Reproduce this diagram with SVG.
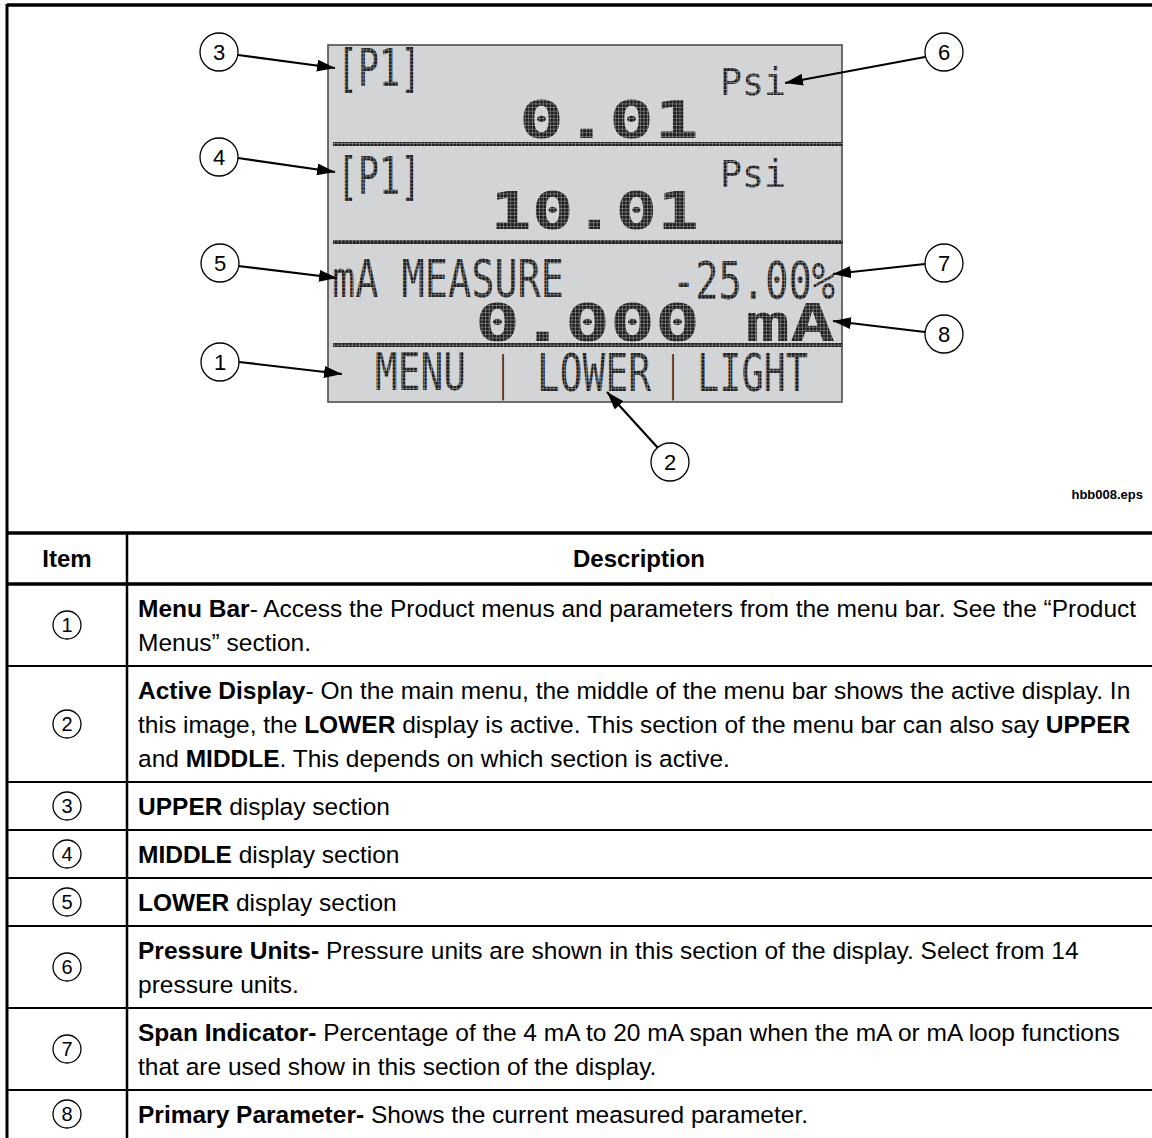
<svg xmlns="http://www.w3.org/2000/svg" width="1152" height="1138" viewBox="0 0 1152 1138">
<style>
.lcdtxt{font-family:"DejaVu Sans Mono","Liberation Mono",monospace;fill:url(#dots)}
.bar{font-family:"DejaVu Sans Mono","Liberation Mono",monospace;font-size:46px;font-weight:bold;fill:#222}
.big{font-weight:bold;font-size:51px}
.sm{font-size:51px}
.num{font-family:"Liberation Sans",Arial,sans-serif;font-size:22px;text-anchor:middle;fill:#000}
.tnum{font-family:"Liberation Sans",Arial,sans-serif;font-size:20px;text-anchor:middle;fill:#000}
.co{fill:#fff;stroke:#000;stroke-width:1.3}
.arr{stroke:#000;stroke-width:2.2;fill:none;marker-end:url(#ah)}
.body{font-family:"Liberation Sans",Arial,sans-serif;font-size:24.5px;fill:#000}
.hdr{font-family:"Liberation Sans",Arial,sans-serif;font-size:24px;font-weight:bold;fill:#000;text-anchor:middle}
.b{font-weight:bold}
.thick{stroke:#000;stroke-width:3.5}
.thin{stroke:#000;stroke-width:2}
</style>
<defs>
<pattern id="dots" width="3.6" height="3.6" patternUnits="userSpaceOnUse">
<rect width="3.6" height="3.6" fill="#1e1e1e"/>
<path d="M3.6 0V3.6H0" stroke="#c8c9cb" stroke-width="0.8" fill="none"/>
</pattern>
<marker id="ah" markerUnits="userSpaceOnUse" markerWidth="20" markerHeight="12" refX="18" refY="6" orient="auto">
<path d="M0,0 L18,6 L0,12 z" fill="#000"/>
</marker>
</defs>
<rect width="1152" height="1138" fill="#fff"/>

<g id="frame">
<line x1="7" y1="5" x2="1152" y2="5" class="thick"/>
<line x1="7" y1="4" x2="7" y2="1138" stroke="#000" stroke-width="3"/>
</g>

<g id="lcd">
<rect x="328" y="45" width="514" height="357" fill="#d3d4d6" stroke="#4d4d4d" stroke-width="1.6"/>
<rect x="333" y="142" width="510" height="4" fill="url(#dots)"/>
<rect x="333" y="240" width="510" height="4" fill="url(#dots)"/>
<rect x="333" y="343" width="510" height="4" fill="url(#dots)"/>
<text class="lcdtxt sm" x="337" y="86" textLength="84" lengthAdjust="spacingAndGlyphs">[P1]</text>
<text class="lcdtxt" style="font-size:37px" x="720" y="95" textLength="66" lengthAdjust="spacingAndGlyphs">Psi</text>
<text class="lcdtxt big" x="519" y="138" textLength="180" lengthAdjust="spacingAndGlyphs">0.01</text>
<text class="lcdtxt sm" x="337" y="194" textLength="84" lengthAdjust="spacingAndGlyphs">[P1]</text>
<text class="lcdtxt" style="font-size:37px" x="720" y="187" textLength="66" lengthAdjust="spacingAndGlyphs">Psi</text>
<text class="lcdtxt big" x="490" y="229" textLength="209" lengthAdjust="spacingAndGlyphs">10.01</text>
<text class="lcdtxt sm" x="332" y="297" textLength="232" lengthAdjust="spacingAndGlyphs">mA MEASURE</text>
<text class="lcdtxt sm" x="672" y="299" textLength="163" lengthAdjust="spacingAndGlyphs">-25.00%</text>
<text class="lcdtxt big" x="475" y="341" textLength="360" lengthAdjust="spacingAndGlyphs">0.000 mA</text>
<text class="lcdtxt sm" x="375" y="390" textLength="91" lengthAdjust="spacingAndGlyphs">MENU</text>
<text class="bar" x="499" y="389" textLength="8" lengthAdjust="spacingAndGlyphs">|</text>
<text class="lcdtxt sm" x="537" y="391" textLength="114" lengthAdjust="spacingAndGlyphs">LOWER</text>
<text class="bar" x="669" y="389" textLength="8" lengthAdjust="spacingAndGlyphs">|</text>
<text class="lcdtxt sm" x="697" y="391" textLength="111" lengthAdjust="spacingAndGlyphs">LIGHT</text>
</g>

<g id="connectors">
<line class="arr" x1="238" y1="55" x2="335" y2="68"/>
<line class="arr" x1="238" y1="158" x2="335" y2="172"/>
<line class="arr" x1="238" y1="266" x2="337" y2="278"/>
<line class="arr" x1="239" y1="362" x2="342" y2="374"/>
<line class="arr" x1="925" y1="57" x2="785" y2="83"/>
<line class="arr" x1="925" y1="264" x2="833" y2="274"/>
<line class="arr" x1="925" y1="332" x2="833" y2="321"/>
<line class="arr" x1="658" y1="448" x2="607" y2="392"/>
</g>

<g id="callout-3"><circle class="co" cx="219" cy="52" r="19"/><text class="num" x="219" y="60">3</text></g>
<g id="callout-4"><circle class="co" cx="219" cy="157" r="19"/><text class="num" x="219" y="165">4</text></g>
<g id="callout-5"><circle class="co" cx="220" cy="263" r="19"/><text class="num" x="220" y="271">5</text></g>
<g id="callout-1"><circle class="co" cx="220" cy="362" r="19"/><text class="num" x="220" y="370">1</text></g>
<g id="callout-6"><circle class="co" cx="944" cy="52" r="19"/><text class="num" x="944" y="60">6</text></g>
<g id="callout-7"><circle class="co" cx="944" cy="263" r="19"/><text class="num" x="944" y="271">7</text></g>
<g id="callout-8"><circle class="co" cx="944" cy="334" r="19"/><text class="num" x="944" y="342">8</text></g>
<g id="callout-2"><circle class="co" cx="670" cy="462" r="19"/><text class="num" x="670" y="470">2</text></g>

<text x="1143" y="499" font-family="'Liberation Sans',Arial,sans-serif" font-size="13" font-weight="bold" text-anchor="end">hbb008.eps</text>

<g id="table">
<line x1="7" y1="533" x2="1152" y2="533" class="thick"/>
<line x1="7" y1="584" x2="1152" y2="584" class="thick"/>
<line x1="7" y1="666" x2="1152" y2="666" class="thin"/>
<line x1="7" y1="782" x2="1152" y2="782" class="thin"/>
<line x1="7" y1="830" x2="1152" y2="830" class="thin"/>
<line x1="7" y1="878" x2="1152" y2="878" class="thin"/>
<line x1="7" y1="926" x2="1152" y2="926" class="thin"/>
<line x1="7" y1="1008" x2="1152" y2="1008" class="thin"/>
<line x1="7" y1="1090" x2="1152" y2="1090" class="thin"/>
<line x1="127" y1="533" x2="127" y2="1138" stroke="#000" stroke-width="2.5"/>
<text class="hdr" x="67" y="567">Item</text>
<text class="hdr" x="639" y="567">Description</text>

<g id="row-1"><circle class="co" cx="67" cy="625" r="14"/><text class="tnum" x="67" y="632">1</text>
<text class="body" x="138" y="617"><tspan class="b">Menu Bar</tspan>- Access the Product menus and parameters from the menu bar. See the “Product</text>
<text class="body" x="138" y="651">Menus” section.</text></g>

<g id="row-2"><circle class="co" cx="67" cy="724" r="14"/><text class="tnum" x="67" y="731">2</text>
<text class="body" x="138" y="699"><tspan class="b">Active Display</tspan>- On the main menu, the middle of the menu bar shows the active display. In</text>
<text class="body" x="138" y="733">this image, the <tspan class="b">LOWER</tspan> display is active. This section of the menu bar can also say <tspan class="b">UPPER</tspan></text>
<text class="body" x="138" y="767">and <tspan class="b">MIDDLE</tspan>. This depends on which section is active.</text></g>

<g id="row-3"><circle class="co" cx="67" cy="806" r="14"/><text class="tnum" x="67" y="813">3</text>
<text class="body" x="138" y="815"><tspan class="b">UPPER</tspan> display section</text></g>

<g id="row-4"><circle class="co" cx="67" cy="854" r="14"/><text class="tnum" x="67" y="861">4</text>
<text class="body" x="138" y="863"><tspan class="b">MIDDLE</tspan> display section</text></g>

<g id="row-5"><circle class="co" cx="67" cy="902" r="14"/><text class="tnum" x="67" y="909">5</text>
<text class="body" x="138" y="911"><tspan class="b">LOWER</tspan> display section</text></g>

<g id="row-6"><circle class="co" cx="67" cy="967" r="14"/><text class="tnum" x="67" y="974">6</text>
<text class="body" x="138" y="959"><tspan class="b">Pressure Units-</tspan> Pressure units are shown in this section of the display. Select from 14</text>
<text class="body" x="138" y="993">pressure units.</text></g>

<g id="row-7"><circle class="co" cx="67" cy="1049" r="14"/><text class="tnum" x="67" y="1056">7</text>
<text class="body" x="138" y="1041"><tspan class="b">Span Indicator-</tspan> Percentage of the 4 mA to 20 mA span when the mA or mA loop functions</text>
<text class="body" x="138" y="1075">that are used show in this section of the display.</text></g>

<g id="row-8"><circle class="co" cx="67" cy="1114" r="14"/><text class="tnum" x="67" y="1121">8</text>
<text class="body" x="138" y="1123"><tspan class="b">Primary Parameter-</tspan> Shows the current measured parameter.</text></g>
</g>
</svg>
